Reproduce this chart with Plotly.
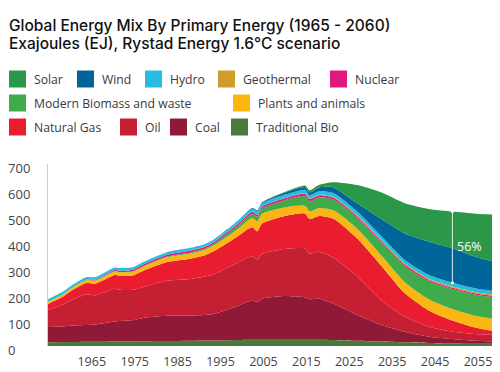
import plotly.graph_objects as go

# ---------------- data (EJ) ----------------
YEARS = [1965, 1968, 1970, 1973, 1975, 1979, 1980, 1982, 1983, 1985, 1990, 1995, 1998, 2000,
         2005, 2007, 2008, 2009, 2010, 2015, 2019, 2020, 2022, 2025, 2030, 2035, 2040, 2045,
         2050, 2055, 2060]

TRADITIONAL_BIO = [14, 15, 15, 16, 16, 17, 17, 17, 17, 18, 19, 20, 21, 21, 23, 24, 24, 24, 24, 24,
                   24, 24, 24, 23, 20, 17, 14, 12, 10, 9, 8]
COAL = [59, 60, 64, 65, 67, 77, 79, 81, 83, 90, 97, 97, 98, 103, 132, 147, 150, 146, 158, 168,
        163, 156, 158, 140, 99, 64, 41, 24, 17, 11, 9]
OIL = [66, 83, 98, 118, 112, 126, 120, 117, 116, 119, 135, 141, 148, 153, 166, 169, 170, 163, 172,
       182, 188, 175, 180, 176, 148, 96, 58, 38, 28, 26, 25]
NATURAL_GAS = [23, 30, 36, 43, 45, 53, 54, 54, 56, 62, 72, 78, 82, 89, 102, 110, 113, 108, 117,
               127, 135, 133, 138, 150, 146, 133, 90, 63, 43, 24, 11]
PLANTS_ANIMALS = [8, 9, 10, 11, 12, 14, 14, 15, 15, 16, 18, 20, 21, 22, 29, 33, 35, 38, 38, 33,
                  29, 30, 31, 33, 38, 40, 42, 43, 44, 45, 47]
MODERN_BIOMASS = [0, 0, 0, 0.3, 0.5, 1, 1, 1.5, 1.5, 2, 3, 4, 5, 6, 12, 15, 17, 19, 20, 28, 38,
                  38, 40, 42, 42, 50, 62, 70, 77, 82, 85]
NUCLEAR = [0, 0.3, 0.6, 1.5, 2.5, 4, 4.5, 5, 5.5, 6, 6.5, 7, 7, 7, 7, 7, 7, 7, 7, 7, 9, 9, 9, 7,
           6, 6, 6, 5, 5, 5, 5]
GEOTHERMAL = [0, 0, 0, 0, 0, 0.1, 0.1, 0.1, 0.1, 0.2, 0.3, 0.4, 0.5, 0.5, 0.8, 1, 1, 1, 1, 1.5,
              2, 2, 2, 3, 4, 4, 4, 5, 5, 5, 5]
HYDRO = [10, 10, 10, 10, 10, 10, 10, 10, 10, 10, 10, 10, 10, 10, 11, 11, 12, 12, 12, 13, 13, 13,
         13, 14, 14, 14, 14, 14, 14, 14, 14]
WIND = [0, 0, 0, 0, 0, 0, 0, 0, 0, 0, 0, 0.1, 0.2, 0.4, 1, 2, 2.5, 3, 3.5, 8, 10, 11, 15, 22, 32,
        65, 102, 128, 133, 121, 109]
SOLAR = [0, 0, 0, 0, 0, 0, 0, 0, 0, 0, 0, 0, 0, 0, 0.1, 0.2, 0.4, 0.5, 0.7, 3, 6, 8, 10, 20, 70,
         102, 116, 125, 141, 167, 186]

X_TICK_LABELS = ["1965", "1975", "1985", "1995", "2005", "2015", "2025", "2035", "2045", "2055"]
Y_TICK_VALUES = [0, 100, 200, 300, 400, 500, 600, 700]
SHARE_YEAR = 2050
SHARE_LABEL = "56%"

TITLE_1 = "Global Energy Mix By Primary Energy (1965 - 2060)"
TITLE_2 = "Exajoules (EJ), Rystad Energy 1.6°C scenario"

# stacking order bottom -> top
SERIES = [
    ("Traditional Bio", TRADITIONAL_BIO, "#4a7a3b"),
    ("Coal", COAL, "#8e1a37"),
    ("Oil", OIL, "#c41f33"),
    ("Natural Gas", NATURAL_GAS, "#ea1d30"),
    ("Plants and animals", PLANTS_ANIMALS, "#fcb613"),
    ("Modern Biomass and waste", MODERN_BIOMASS, "#40ab4a"),
    ("Nuclear", NUCLEAR, "#e0197f"),
    ("Geothermal", GEOTHERMAL, "#d09c2b"),
    ("Hydro", HYDRO, "#27bde2"),
    ("Wind", WIND, "#00669a"),
    ("Solar", SOLAR, "#2b9748"),
]
COLOR = {n: c for n, _, c in SERIES}

# legend layout (screen pixel positions of swatch left edge / row centre)
LEGEND_ROWS = [
    [("Solar", 9), ("Wind", 77), ("Hydro", 145), ("Geothermal", 218), ("Nuclear", 330)],
    [("Modern Biomass and waste", 9), ("Plants and animals", 233)],
    [("Natural Gas", 9), ("Oil", 120), ("Coal", 170), ("Traditional Bio", 231)],
]
LEGEND_ROW_Y = [79, 103, 127]

# the page body has an 8px margin: figure drawn from (8, 8)
OFF = 8
W, H = 500 - OFF, 372 - OFF
PL, PR, PT, PB = 48 - OFF, 500 - OFF, 164 - OFF, 346 - OFF


def px(xs):
    """screen x pixel -> paper x"""
    return (xs - OFF - PL) / (PR - PL)


def py(ys):
    """screen y pixel -> paper y"""
    return (PB - (ys - OFF)) / (PB - PT)


fig = go.Figure()
for name, vals, col in SERIES:
    fig.add_trace(go.Scatter(
        x=YEARS, y=vals, name=name, stackgroup="one", mode="lines",
        line=dict(width=0, color=col, shape="spline", smoothing=0.6),
        fillcolor=col, hoverinfo="skip", showlegend=False,
    ))

# share marker line at 2050 (solar + wind)
i50 = YEARS.index(SHARE_YEAR)
below = sum(v[i50] for n, v, c in SERIES if n not in ("Wind", "Solar"))
total = sum(v[i50] for n, v, c in SERIES)
fig.add_shape(type="line", xref="x", yref="y", x0=SHARE_YEAR, x1=SHARE_YEAR,
              y0=below, y1=total, line=dict(color="rgba(255,255,255,0.85)", width=1))
fig.add_trace(go.Scatter(x=[SHARE_YEAR, SHARE_YEAR], y=[below, total], mode="markers",
                         marker=dict(color="white", size=3), showlegend=False, hoverinfo="skip"))
fig.add_annotation(x=SHARE_YEAR + 3.6, y=(below + total) / 2 + 4, xref="x", yref="y",
                   text=SHARE_LABEL, showarrow=False,
                   font=dict(family="Open Sans", size=12.5, color="white"))

# titles
fig.add_annotation(x=px(7), y=py(25), xref="paper", yref="paper", xanchor="left",
                   yanchor="middle", text=TITLE_1, showarrow=False,
                   font=dict(family="Inter", size=15.5, color="#111111", weight=500))
fig.add_annotation(x=px(7), y=py(43.5), xref="paper", yref="paper", xanchor="left",
                   yanchor="middle", text=TITLE_2, showarrow=False,
                   font=dict(family="Inter", size=15.5, color="#111111", weight=500))

# custom legend
for row, yc in zip(LEGEND_ROWS, LEGEND_ROW_Y):
    for name, x0 in row:
        fig.add_shape(type="rect", xref="paper", yref="paper",
                      x0=px(x0), x1=px(x0 + 17), y0=py(yc + 8.5), y1=py(yc - 8.5),
                      fillcolor=COLOR[name], line=dict(width=0))
        fig.add_annotation(x=px(x0 + 23), y=py(yc), xref="paper", yref="paper",
                           xanchor="left", yanchor="middle", text=name, showarrow=False,
                           font=dict(family="Open Sans", size=12.2, color="#3a3a3a"))

tick_pos = [1974.2 + 9.02 * i for i in range(len(X_TICK_LABELS))]
y_text = [str(v) if v else "0\u2007\u2007" for v in Y_TICK_VALUES]

fig.update_layout(
    width=W, height=H,
    margin=dict(l=PL, r=W - PR, t=PT, b=H - PB, pad=0),
    paper_bgcolor="white", plot_bgcolor="white",
    xaxis=dict(range=[1965, 2060], tickvals=tick_pos, ticktext=X_TICK_LABELS,
               showgrid=False, zeroline=False, showline=False, ticks="",
               tickfont=dict(family="Open Sans", size=12.5, color="#444444"),
               ticklabelstandoff=6, fixedrange=True),
    yaxis=dict(range=[0, 700], tickvals=Y_TICK_VALUES, ticktext=y_text,
               showgrid=False, zeroline=False, showline=True, linecolor="#cccccc",
               linewidth=1, ticks="", ticklabelshift=4, ticklabelstandoff=14,
               tickfont=dict(family="Open Sans", size=13, color="#444444"),
               fixedrange=True),
    showlegend=False,
)

fig.write_html("out.html", config={"displayModeBar": False})
